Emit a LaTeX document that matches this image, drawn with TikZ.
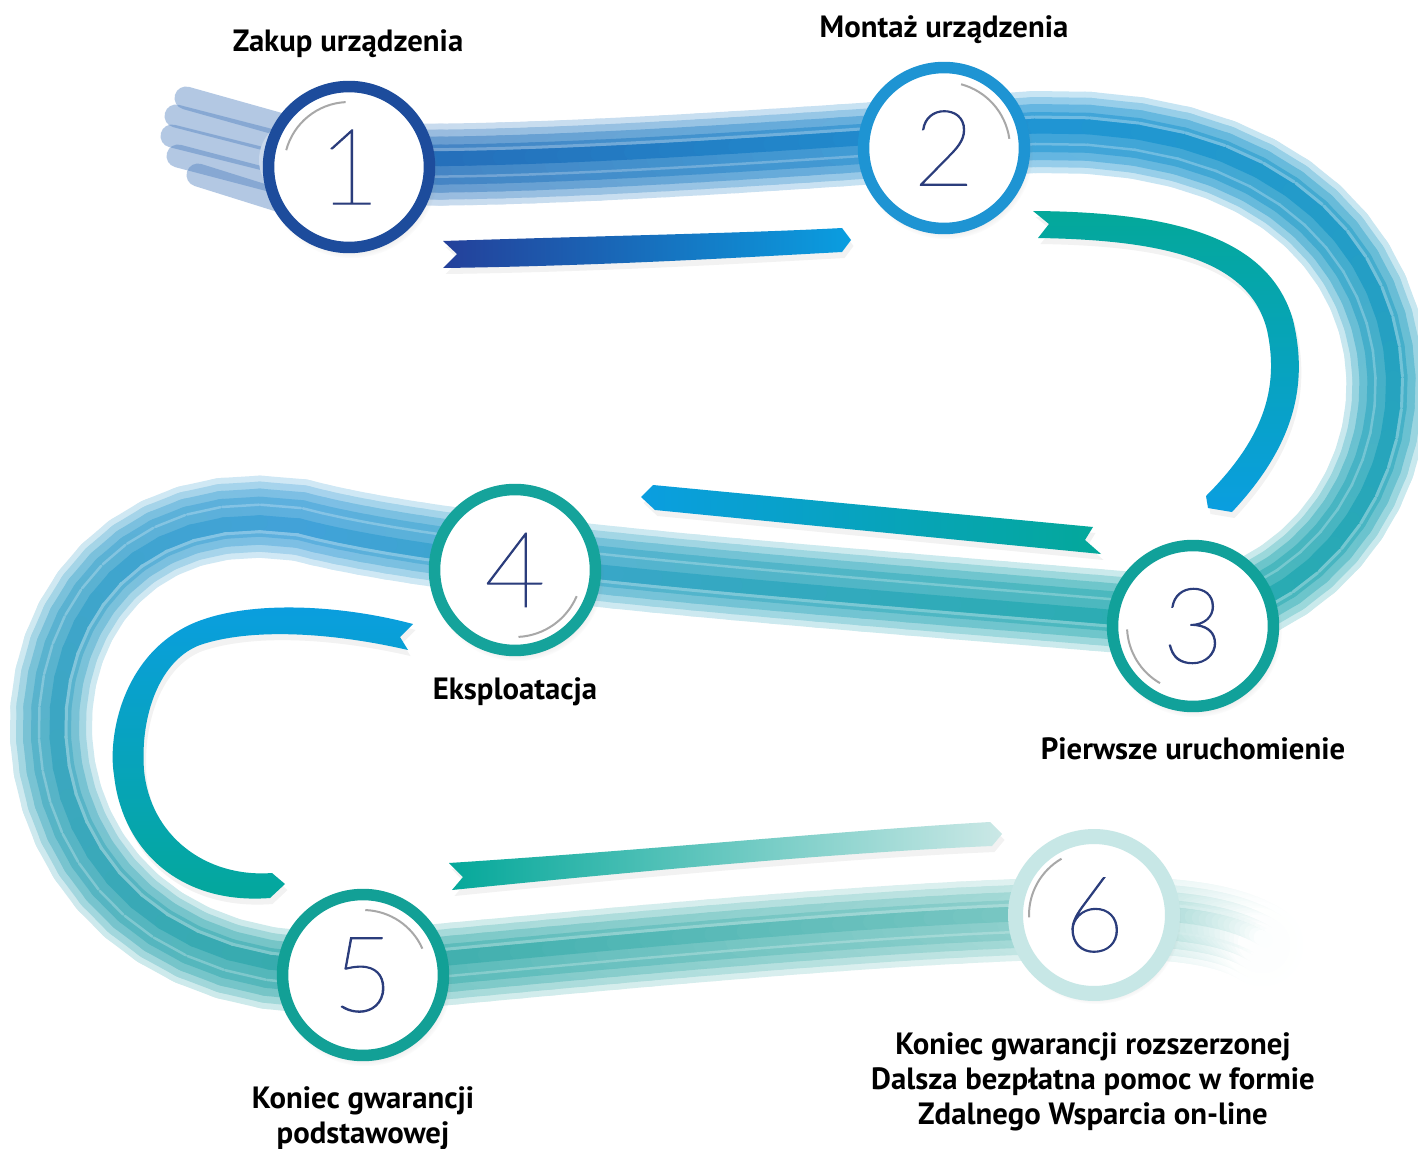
\documentclass[tikz,border=0pt]{standalone}
\usepackage{fontspec}
\setmainfont{PT Sans}
\IfFontExistsTF{Lato Hairline}{\newfontfamily\numfont{Lato Hairline}[RawFeature={embolden=1.0}]}{%
  \IfFontExistsTF{Lato Thin}{\newfontfamily\numfont{Lato Thin}}{\newfontfamily\numfont{Lato Light}}}
\usetikzlibrary{shadows,calc}

% brush colours along the path
\definecolor{bc0}{HTML}{1E5CAE}
\definecolor{bc1}{HTML}{1690D2}
\definecolor{bc2}{HTML}{22AAAC}
\definecolor{bc3}{HTML}{3A9ED8}
\definecolor{bc4}{HTML}{2EA8A8}
\definecolor{bc5}{HTML}{7CC8C3}
\definecolor{bc6}{HTML}{FFFFFF}
% rings
\definecolor{rc1}{HTML}{1D4C9C}
\definecolor{rc2}{HTML}{1E94D3}
\definecolor{rc3}{HTML}{11A19A}
\definecolor{rc4}{HTML}{15A39B}
\definecolor{rc5}{HTML}{12A096}
\definecolor{rc6}{HTML}{C7E7E6}
% ribbons
\definecolor{rnavy}{HTML}{24409A}
\definecolor{rblue}{HTML}{0A9EE0}
\definecolor{rteal}{HTML}{04A89A}
\definecolor{rcyan}{HTML}{00A3C4}
\definecolor{rpale}{HTML}{CBE8E6}
\definecolor{numblue}{HTML}{2B3D7C}
\definecolor{glintgray}{HTML}{A8A8A8}

\pgfmathtruncatemacro{\nseg}{24}
\pgfmathtruncatemacro{\nlast}{\nseg-1}

% one piece of the brush centre line, cut into \nseg points
\newcommand{\bandsection}[5]{%
  \path #2 .. controls #3 and #4 .. #5
    foreach \k [evaluate=\k as \t using \k/\nseg] in {0,...,\nseg} {coordinate[pos=\t] (#1-\k)};}

\tikzset{
  stepcircle/.style={circle, draw=#1, line width=0.23cm, fill=white, minimum size=3.22cm, inner sep=0pt,
    font=\numfont\fontsize{60}{62}\selectfont, text=numblue,
    circular drop shadow={shadow xshift=0.04cm, shadow yshift=-0.08cm, shadow scale=1.08, opacity=0.25}},
  glint/.style={draw=glintgray, line width=0.04cm},
  steplabel/.style={font=\bfseries\fontsize{17.5}{20}\selectfont, align=center, inner sep=0pt},
  ribbon/.style={drop shadow={shadow xshift=0.05cm, shadow yshift=-0.12cm, opacity=0.1}}
}

\begin{document}
\begin{tikzpicture}[x=0.02cm, y=-0.02cm]

  \fill[white] (0,0) rectangle (1418,1149);
  \useasboundingbox (0,0) rectangle (1418,1149);

  % centre line of the brush stroke
  \bandsection{s1}{(300,160)}{(440,176)}{(800,148)}{(1035,132)}
  \bandsection{s2}{(1035,132)}{(1480,120)}{(1470,560)}{(1193,618)}
  \bandsection{s3}{(1193,618)}{(800,585)}{(450,560)}{(300,520)}
  \bandsection{s4}{(300,520)}{(-35,470)}{(-50,1000)}{(363,972)}
  \bandsection{s5}{(363,972)}{(600,950)}{(900,920)}{(1094,918)}
  \bandsection{s6}{(1094,918)}{(1180,917)}{(1230,925)}{(1262,945)}

  % loose bristles at the start
  \foreach \xa/\ya in {186/98, 176/116, 172/136, 178/156, 198/175}
    \draw[line width=0.46cm, line cap=round, color=bc0!80!white, opacity=0.42] (\xa,\ya) -- (300,\ya+32);

  % brush: wide pale layers first, narrow strong ones last
  \foreach \w/\m in {82/24,70/45,56/66,40/82}{
    \foreach \s [evaluate=\s as \sp using int(\s-1)] in {1,...,6}{
      \foreach \k [evaluate=\k as \kk using int(\k+1), evaluate=\k as \mix using int(100-100*(\k+0.5)/\nseg)] in {0,...,\nlast}{
        \colorlet{segcol}{bc\sp!\mix!bc\s}
        \draw[line width=\w*0.02cm, line cap=round, color=segcol!\m!white] (s\s-\k) -- (s\s-\kk);
      }
    }
  }
  % streaks inside the brush
  \foreach \d/\sw/\m in {0.12/0.3/96, 0.3/0.06/62, -0.24/0.05/62}{
    \foreach \s [evaluate=\s as \sp using int(\s-1)] in {1,...,6}{
      \foreach \k [evaluate=\k as \kk using int(\k+1), evaluate=\k as \mix using int(100-100*(\k+0.5)/\nseg)] in {0,...,\nlast}{
        \colorlet{segcol}{bc\sp!\mix!bc\s}
        \draw[line width=\sw cm, line cap=round, color=segcol!\m!white]
          ($(s\s-\k)!\d cm!90:(s\s-\kk)$) -- ($(s\s-\kk)!\d cm!-90:(s\s-\k)$);
      }
    }
  }

  % ribbons
  \shade[ribbon, left color=rnavy, right color=rblue]
    (443,241) .. controls (600,236) and (750,233) .. (842,228) -- (851,240) -- (842,252)
    .. controls (750,257) and (600,266) .. (443,268) -- (457,254) -- cycle;
  \shade[ribbon, top color=rteal, middle color=rcyan, bottom color=rblue]
    (1033,211) .. controls (1180,212) and (1270,240) .. (1293,320)
    .. controls (1310,390) and (1290,450) .. (1232,512) -- (1208,508) -- (1206,496)
    .. controls (1262,440) and (1280,390) .. (1267,330)
    .. controls (1250,262) and (1170,240) .. (1038,238) -- (1049,224) -- cycle;
  \shade[ribbon, left color=rblue, right color=rteal]
    (641,497) -- (653,485) -- (1093,527) -- (1085,540) -- (1101,554) -- (655,510) -- cycle;
  \shade[ribbon, top color=rblue, middle color=rcyan, bottom color=rteal]
    (413,624) .. controls (330,602) and (230,600) .. (180,630)
    .. controls (120,665) and (108,740) .. (114,775)
    .. controls (122,850) and (180,905) .. (270,898) -- (285,884) -- (272,873)
    .. controls (205,878) and (150,835) .. (144,770)
    .. controls (140,715) and (160,660) .. (200,645)
    .. controls (250,628) and (330,632) .. (408,650) -- (400,637) -- cycle;
  \shade[ribbon, left color=rteal, middle color=rteal!70!rpale, right color=rpale]
    (449,863) .. controls (650,850) and (850,830) .. (990,822) -- (1002,834) -- (992,846)
    .. controls (850,852) and (650,870) .. (452,890) -- (463,877) -- cycle;

  % steps
  \node[stepcircle=rc1] (c1) at (349,167) {1};
  \node[stepcircle=rc2] (c2) at (944,148) {2};
  \node[stepcircle=rc3] (c3) at (1193,626) {3};
  \node[stepcircle=rc4] (c4) at (515,570) {4};
  \node[stepcircle=rc5] (c5) at (363,975) {5};
  \node[stepcircle=rc6, line width=0.3cm, minimum size=3.14cm] (c6) at (1094,915) {6};

  \draw[glint] ([shift={(93:1.3cm)}]c1.center) arc[start angle=93, end angle=165, radius=1.3cm];
  \draw[glint] ([shift={(75:1.32cm)}]c2.center) arc[start angle=75, end angle=8, radius=1.32cm];
  \draw[glint] ([shift={(183:1.32cm)}]c3.center) arc[start angle=183, end angle=240, radius=1.32cm];
  \draw[glint] ([shift={(-23:1.34cm)}]c4.center) arc[start angle=-23, end angle=-87, radius=1.34cm];
  \draw[glint] ([shift={(88:1.3cm)}]c5.center) arc[start angle=88, end angle=24, radius=1.3cm];
  \draw[glint] ([shift={(120:1.3cm)}]c6.center) arc[start angle=120, end angle=182, radius=1.3cm];

  % labels
  \node[steplabel] (l1) at (348,44) {Zakup urządzenia};
  \node[steplabel] (l2) at (944,30) {Montaż urządzenia};
  \node[steplabel] (l3) at (1193,749) {Pierwsze uruchomienie};
  \node[steplabel] (l4) at (515,692) {Eksploatacja};
  \node[steplabel] (l5) at (363,1118) {Koniec gwarancji\\podstawowej};
  \node[steplabel] (l6) at (1093,1082) {Koniec gwarancji rozszerzonej\\Dalsza bezpłatna pomoc w formie\\Zdalnego Wsparcia on-line};

\end{tikzpicture}
\end{document}
